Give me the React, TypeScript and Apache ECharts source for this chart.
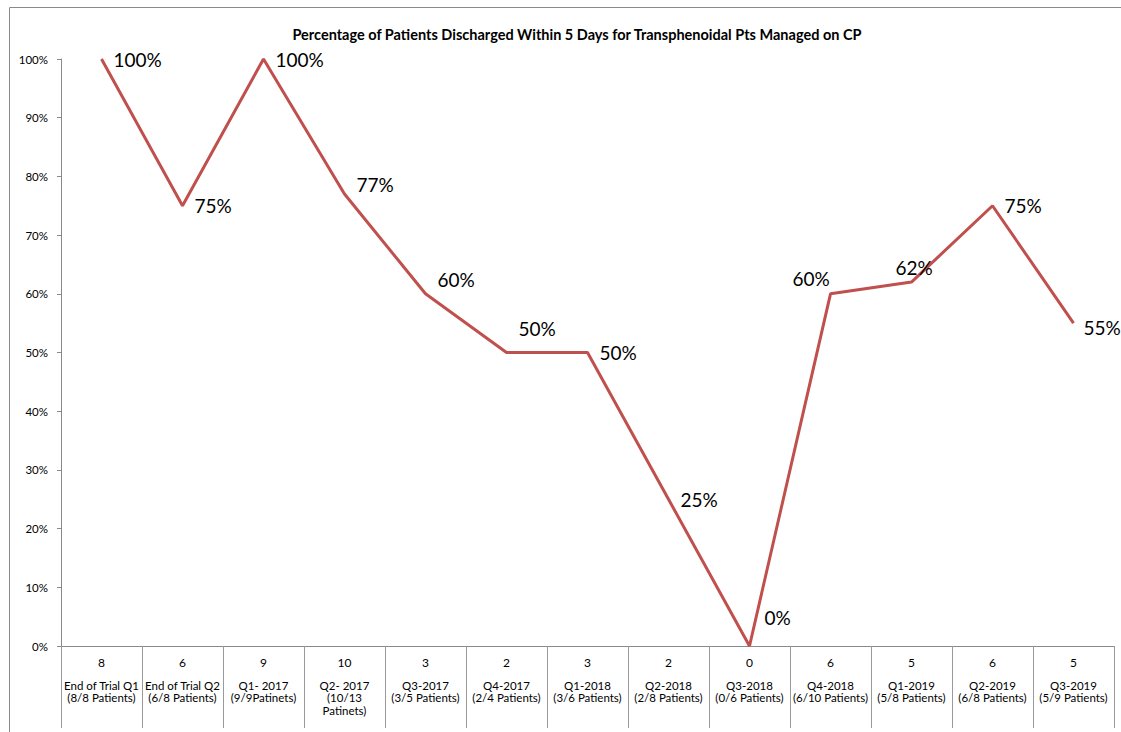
import React, { useEffect, useRef } from "react";
import * as echarts from "echarts";

const TITLE = "Percentage of Patients Discharged Within 5 Days for Transphenoidal Pts Managed on CP";
const categories = [
  "End of Trial Q1\n(8/8 Patients)",
  "End of Trial Q2\n(6/8 Patients)",
  "Q1- 2017\n(9/9Patinets)",
  "Q2- 2017\n(10/13\nPatinets)",
  "Q3-2017\n(3/5 Patients)",
  "Q4-2017\n(2/4 Patients)",
  "Q1-2018\n(3/6 Patients)",
  "Q2-2018\n(2/8 Patients)",
  "Q3-2018\n(0/6 Patients)",
  "Q4-2018\n(6/10 Patients)",
  "Q1-2019\n(5/8 Patients)",
  "Q2-2019\n(6/8 Patients)",
  "Q3-2019\n(5/9 Patients)",
];
const counts = [8, 6, 9, 10, 3, 2, 3, 2, 0, 6, 5, 6, 5];
const percents = [100, 75, 100, 77, 60, 50, 50, 25, 0, 60, 62, 75, 55];
const yTicks = { min: 0, max: 100, interval: 10 };
// label nudges (pixels) so labels sit where the original places them
const labelOffsets: [number, number][] = [
  [0, 0], [0, 0], [0, 0], [0, -10], [0, -14], [0, -24], [0, 0],
  [0, 0], [3, -29], [-50, -15], [-28, -15], [0, 0], [-2, 4],
];

const FONT = "Lato, 'Noto Sans', sans-serif";

export default function App() {
  const ref = useRef<HTMLDivElement>(null);
  useEffect(() => {
    if (!ref.current) return;
    const chart = echarts.init(ref.current, null, { renderer: "svg" });
    chart.setOption({
      animation: false,
      backgroundColor: "#fff",
      textStyle: { fontFamily: FONT },
      title: {
        text: TITLE,
        left: 572,
        top: 22,
        textAlign: "center",
        textStyle: { fontSize: 14.5, fontWeight: "bold", color: "#000", fontFamily: FONT },
      },
      graphic: [
        {
          type: "rect",
          shape: { x: 9.5, y: 7.5, width: 1300, height: 900 },
          style: { fill: "none", stroke: "#8a8a8a", lineWidth: 1 },
          silent: true,
        },
      ],
      grid: { left: 61, right: 7, top: 59, bottom: 86, containLabel: false },
      xAxis: {
        type: "category",
        data: categories,
        boundaryGap: true,
        axisLine: { lineStyle: { color: "#8a8a8a", width: 1 } },
        axisTick: { show: true, interval: 0, length: 82, lineStyle: { color: "#9a9a9a" } },
        axisLabel: {
          interval: 0,
          margin: 6,
          formatter: (v: string, i: number) => {
            const lines = v.split("\n").map((l) => `{t|${l}}`).join("\n");
            return `{n|${counts[i]}}\n{s| }\n${lines}`;
          },
          rich: {
            n: { fontSize: 12, lineHeight: 20, color: "#000", fontFamily: FONT },
            s: { fontSize: 1, lineHeight: 7 },
            t: { fontSize: 11.5, lineHeight: 12.5, color: "#000", fontFamily: FONT },
          },
        },
      },
      yAxis: {
        type: "value",
        min: yTicks.min,
        max: yTicks.max,
        interval: yTicks.interval,
        splitLine: { show: false },
        axisLine: { show: true, lineStyle: { color: "#8a8a8a" } },
        axisTick: { show: true, length: 4, lineStyle: { color: "#8a8a8a" } },
        axisLabel: { formatter: "{value}%", fontSize: 11.5, color: "#000", margin: 13, fontFamily: FONT },
      },
      series: [
        {
          type: "line",
          data: percents.map((v, i) => ({
            value: v,
            label: { offset: labelOffsets[i] },
          })),
          symbol: "circle",
          symbolSize: 0,
          showSymbol: true,
          lineStyle: { color: "#C0504D", width: 3 },
          itemStyle: { color: "#C0504D" },
          label: {
            show: true,
            position: "right",
            distance: 12,
            formatter: "{c}%",
            fontSize: 19,
            color: "#000",
            fontFamily: FONT,
          },
        },
      ],
    });
    return () => chart.dispose();
  }, []);
  return (
    <div
      ref={ref}
      style={{ position: "absolute", left: 0, top: 0, width: 1121, height: 732 }}
    />
  );
}
